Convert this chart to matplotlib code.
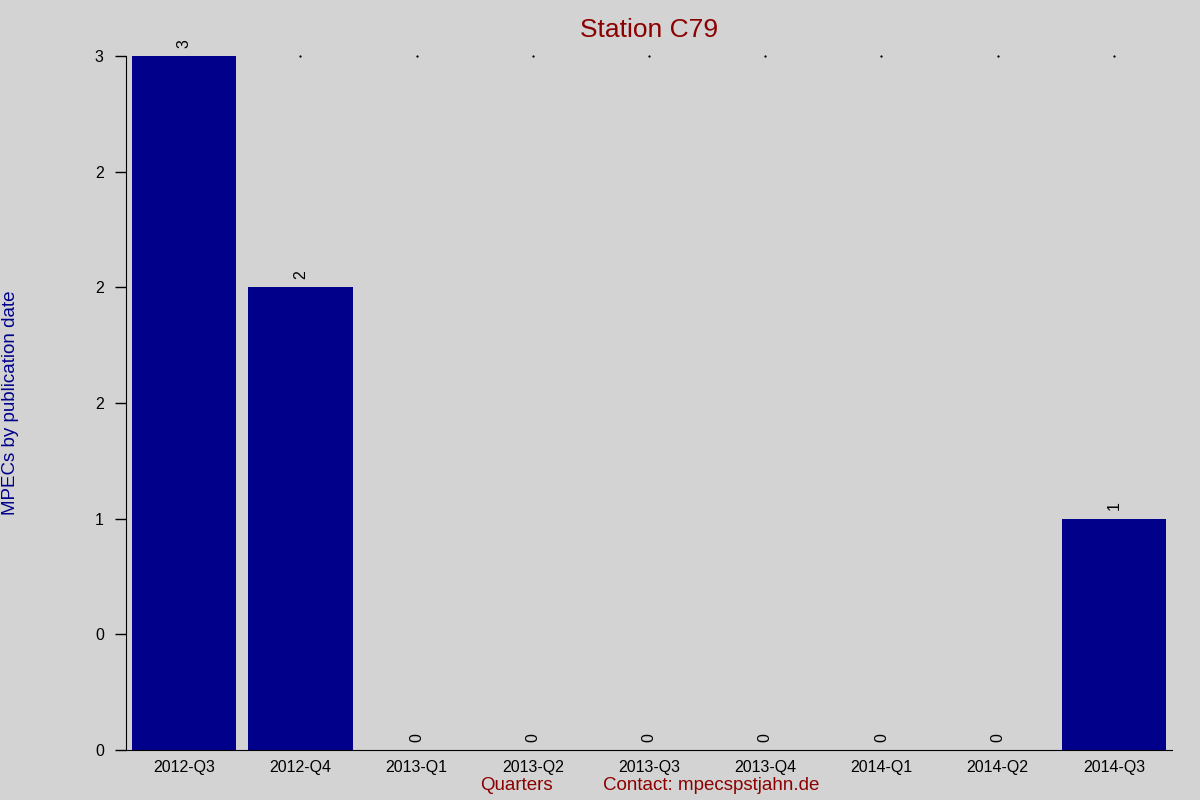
import matplotlib.pyplot as plt
import numpy as np

plt.rcParams['font.family'] = ['Liberation Sans', 'DejaVu Sans']

quarters = ["2012-Q3", "2012-Q4", "2013-Q1", "2013-Q2", "2013-Q3",
            "2013-Q4", "2014-Q1", "2014-Q2", "2014-Q3"]
counts = [3, 2, 0, 0, 0, 0, 0, 0, 1]
yticks = [0, 0.5, 1, 1.5, 2, 2.5, 3]

bg = "#d3d3d3"
fig = plt.figure(figsize=(12, 8), dpi=100, facecolor=bg)
ax = fig.add_axes([0.105, 0.0625, 0.8717, 0.8675], facecolor=bg)

x = np.arange(len(quarters))
ax.bar(x, counts, width=0.9, color="#00008b", zorder=2)
ax.set_xlim(-0.5, len(quarters) - 0.5)
ax.set_ylim(0, max(counts))

# tiny dots along the top of the plot, hidden behind the tallest bar
top = ax.get_ylim()[1]
dots = [xi for xi, c in zip(x, counts) if c < top]
ax.plot(dots, np.full(len(dots), top), linestyle="none",
        marker="s", markersize=0.6, color="black", zorder=1, clip_on=False)

for xi, c in zip(x, counts):
    ax.annotate("%d" % c, (xi, c), xytext=(0, 6), textcoords="offset points",
                rotation=90, ha="center", va="bottom", fontsize=11.5)

ax.set_xticks(x)
ax.set_xticklabels(quarters, fontsize=11.5)
ax.tick_params(axis="x", length=0, pad=7)
ax.set_yticks(yticks)
ax.set_yticklabels(["%.0f" % v for v in yticks], fontsize=11.5)
ax.tick_params(axis="y", length=8, width=1, pad=8)

for s in ["top", "right"]:
    ax.spines[s].set_visible(False)

ax.set_title("Station C79", color="#8b0000", fontsize=19, pad=14)
fig.text(0.0085, 0.496, "MPECs by publication date", rotation=90,
         color="#00008b", fontsize=13.5, ha="center", va="center")
fig.text(0.43, 0.018, "Quarters", color="#8b0000", fontsize=13.5,
         ha="center", va="center")
fig.text(0.5025, 0.018, "Contact: mpecspstjahn.de", color="#8b0000",
         fontsize=13.5, ha="left", va="center")

plt.savefig("out.png", dpi=100, facecolor=bg)
